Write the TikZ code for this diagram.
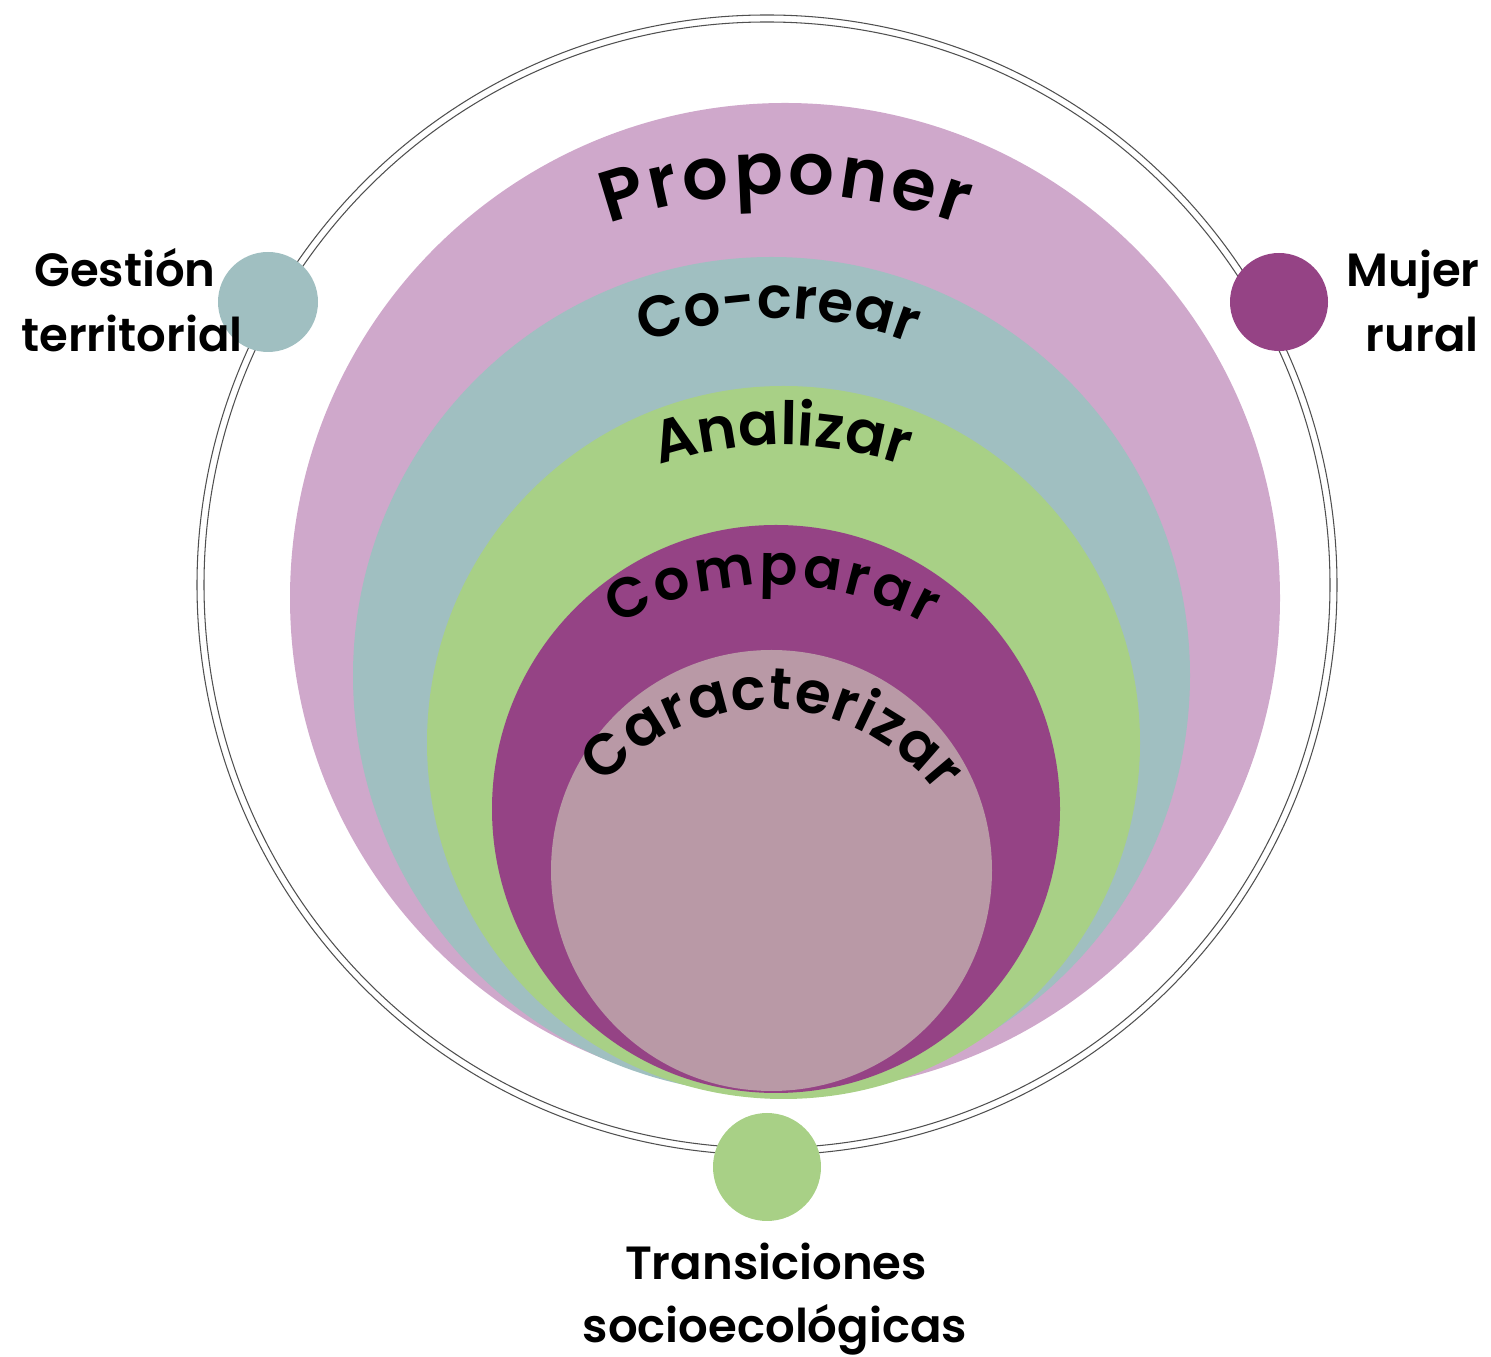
\documentclass[tikz,border=0pt]{standalone}
\usepackage{fontspec}
\setmainfont{Poppins}[BoldFont={Poppins SemiBold}]
\usetikzlibrary{decorations.text}
\definecolor{cpink}{HTML}{CFA8CB}
\definecolor{cteal}{HTML}{A0BFC1}
\definecolor{cgreen}{HTML}{A8D086}
\definecolor{cpurple}{HTML}{954385}
\definecolor{cmauve}{HTML}{B999A6}
\definecolor{cring}{HTML}{505050}
\tikzset{
  ring/.style={draw=cring, line width=0.6pt},
  dot/.style={circle, inner sep=0pt, minimum size=#1},
  lbl/.style={font=\fontsize{26.5}{32}\selectfont\bfseries, inner sep=0pt},
  arctext/.style n args={2}{decorate, decoration={text along path,
      text={|\fontsize{#1}{#1}\selectfont\bfseries|#2}, text align=fit to path}}
}
\begin{document}
\begin{tikzpicture}[x=0.02cm,y=0.02cm]
\useasboundingbox (0,0) rectangle (1491,1356);
% outer double ring
\draw[ring] (767,771) circle[radius=570];
\draw[ring] (767,771) circle[radius=563];
% nested circles
\fill[cpink]   (785,758)   circle[radius=495];
\fill[cteal]   (771.5,680.5) circle[radius=418.5];
\fill[cgreen]  (783.5,613.5) circle[radius=356.5];
\fill[cpurple] (776,547)   circle[radius=284];
\fill[cmauve]  (771.5,485.5) circle[radius=220.5];
% curved texts
\path[arctext={41pt}{Proponer}] ([shift={(109.3:528)}]783,634) arc[start angle=109.3, end angle=70.2, radius=528];
\path[arctext={33pt}{Co-crear}] ([shift={(111.7:360)}]778,678) arc[start angle=111.7, end angle=68.3, radius=360];
\path[arctext={34pt}{Analizar}] ([shift={(108.7:382)}]782,529) arc[start angle=108.7, end angle=71.3, radius=382];
\path[arctext={32pt}{Comparar}] ([shift={(119:320)}]772,451) arc[start angle=119, end angle=61, radius=320];
\path[arctext={33pt}{Caracterizar}] ([shift={(140:213)}]767,434) arc[start angle=140, end angle=37, radius=213];
% small dots
\node[dot=100*0.02cm, fill=cteal]   (gdot) at (268,1054) {};
\node[dot=98*0.02cm,  fill=cpurple] (mdot) at (1279,1054) {};
\node[dot=108*0.02cm, fill=cgreen]  (tdot) at (767,189) {};
% labels
\node[lbl, anchor=base] (g1) at (125,1069) {Gestión};
\node[lbl, anchor=base] (g2) at (132,1004) {territorial};
\node[lbl, anchor=base east] (m1) at (1480,1069) {Mujer};
\node[lbl, anchor=base east] (m2) at (1479,1004) {rural};
\node[lbl, anchor=base] (t1) at (776,76) {Transiciones};
\node[lbl, anchor=base] (t2) at (775,14) {socioecológicas};
\end{tikzpicture}
\end{document}
